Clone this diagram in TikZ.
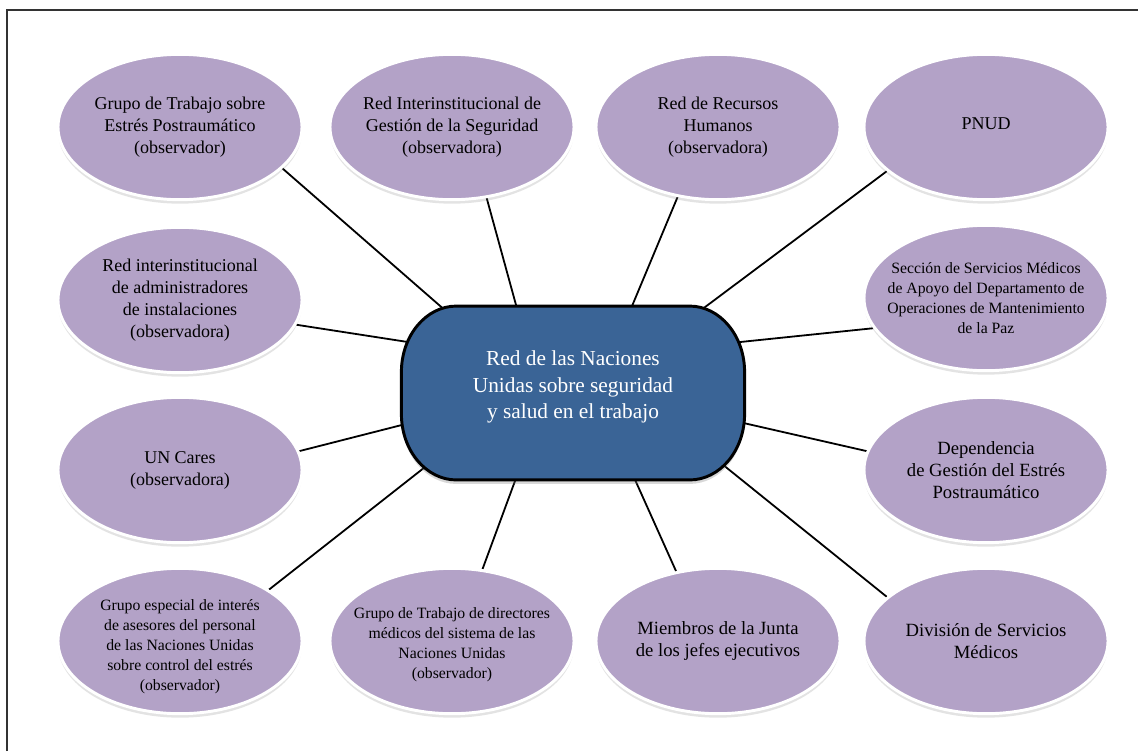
\documentclass[tikz,border=0pt]{standalone}
\usepackage{fontspec}
\setmainfont{Liberation Serif}
\usetikzlibrary{shapes.geometric,shadows,backgrounds,calc}
\definecolor{lav}{HTML}{B3A2C7}
\definecolor{hubcol}{HTML}{3A6496}
\definecolor{framecol}{HTML}{333333}
\begin{document}
\begin{tikzpicture}[x=0.75pt,y=-0.75pt,
  ell/.style={ellipse, fill=lav, draw=white, line width=2.2pt, minimum width=183pt, minimum height=109pt, inner sep=0pt,
    drop shadow={opacity=0.22, shadow xshift=0pt, shadow yshift=-3pt}},
  lbl/.style={align=center, inner sep=0pt, font=\fontsize{13.5}{16.5}\selectfont},
  lblbig/.style={align=center, inner sep=0pt, font=\fontsize{14}{16.5}\selectfont},
  lblsm/.style={align=center, inner sep=0pt, font=\fontsize{11.8}{15}\selectfont},
  hubbox/.style={rectangle, minimum width=257pt, minimum height=130pt, inner sep=0pt},
  hubshape/.style={fill=hubcol, draw=black, line width=2.2pt,
    drop shadow={opacity=0.3, shadow xshift=0pt, shadow yshift=-3pt}},
  edgeline/.style={draw=black, line width=1.35pt}]
\useasboundingbox (0,0) rectangle (1138,751);

% outer frame (top and left edges visible)
\draw[framecol, line width=1.1pt] (7,751) -- (7,10) -- (1138,10);

% central node: rectangle with large elliptic corners
\node[hubbox] (c) at (573,393) {};
\path[hubshape] ($(c.north west)+(55,0)$) -- ($(c.north east)+(-55,0)$)
   arc[start angle=-90, end angle=0, x radius=55, y radius=66]
   -- ($(c.south east)+(0,-66)$)
   arc[start angle=0, end angle=90, x radius=55, y radius=66]
   -- ($(c.south west)+(55,0)$)
   arc[start angle=90, end angle=180, x radius=55, y radius=66]
   -- ($(c.north west)+(0,66)$)
   arc[start angle=180, end angle=270, x radius=55, y radius=66] -- cycle;
\node[align=center, inner sep=0pt, text=white, font=\fontsize{16}{20}\selectfont] (tc) at ($(c)+(0,-6)$)
  {Red de las Naciones\\Unidas sobre seguridad\\y salud en el trabajo};

% satellites
\node[ell] (e1) at (180,127) {};
\node[lbl] (t1) at (e1) {Grupo de Trabajo sobre\\Estrés Postraumático\\(observador)};
\node[ell] (e2) at (452,127) {};
\node[lbl] (t2) at (e2) {Red Interinstitucional de\\Gestión de la Seguridad\\(observadora)};
\node[ell] (e3) at (718,127) {};
\node[lbl] (t3) at (e3) {Red de Recursos\\Humanos\\(observadora)};
\node[ell] (e4) at (986,127) {};
\node[lbl] (t4) at ($(e4)+(0,-3)$) {PNUD};

\node[ell] (e5) at (180,300) {};
\node[lbl] (t5) at (e5) {Red interinstitucional\\de administradores\\de instalaciones\\(observadora)};
\node[ell] (e6) at (986,298) {};
\node[lblsm] (t6) at (e6) {Sección de Servicios Médicos\\de Apoyo del Departamento de\\Operaciones de Mantenimiento\\de la Paz};

\node[ell] (e7) at (180,470) {};
\node[lbl] (t7) at (e7) {UN Cares\\(observadora)};
\node[ell] (e8) at (986,470) {};
\node[lblbig] (t8) at (e8) {Dependencia\\de Gestión del Estrés\\Postraumático};

\node[ell] (e9) at (180,641) {};
\node[lblsm] (t9) at ($(e9)+(0,6)$) {Grupo especial de interés\\de asesores del personal\\de las Naciones Unidas\\sobre control del estrés\\(observador)};
\node[ell] (e10) at (452,641) {};
\node[lblsm] (t10) at ($(e10)+(0,4)$) {Grupo de Trabajo de directores\\médicos del sistema de las\\Naciones Unidas\\(observador)};
\node[ell] (e11) at (718,641) {};
\node[lblbig] (t11) at (e11) {Miembros de la Junta\\de los jefes ejecutivos};
\node[ell] (e12) at (986,641) {};
\node[lblbig] (t12) at (e12) {División de Servicios\\Médicos};

% connectors (behind the nodes)
\begin{pgfonlayer}{background}
\fill[white] (0,0) rectangle (1138,751);
\draw[edgeline] (e1.-22)    -- ($(c)+(-95,-54)$);
\draw[edgeline] (e2.-64)    -- ($(c)+(-46,-48)$);
\draw[edgeline] (e3.-120)   -- ($(c)+(44,-51)$);
\draw[edgeline] (e4.204)    -- ($(c)+(92,-56)$);
\draw[edgeline] (e5.-12)    -- ($(c)+(-120,-44)$);
\draw[edgeline] (e6.195)    -- ($(c)+(119,-46)$);
\draw[edgeline] (e7.9)      -- ($(c)+(-132,22)$);
\draw[edgeline] (e8.171)    -- ($(c)+(131,21)$);
\draw[edgeline] (e9.30)     -- ($(c)+(-111,45)$);
\draw[edgeline] (e10.67)    -- ($(c)+(-44,50)$);
\draw[edgeline] (e11.121)   -- ($(c)+(46,51)$);
\draw[edgeline] (e12.156)   -- ($(c)+(113,42)$);
\end{pgfonlayer}
\end{tikzpicture}
\end{document}
